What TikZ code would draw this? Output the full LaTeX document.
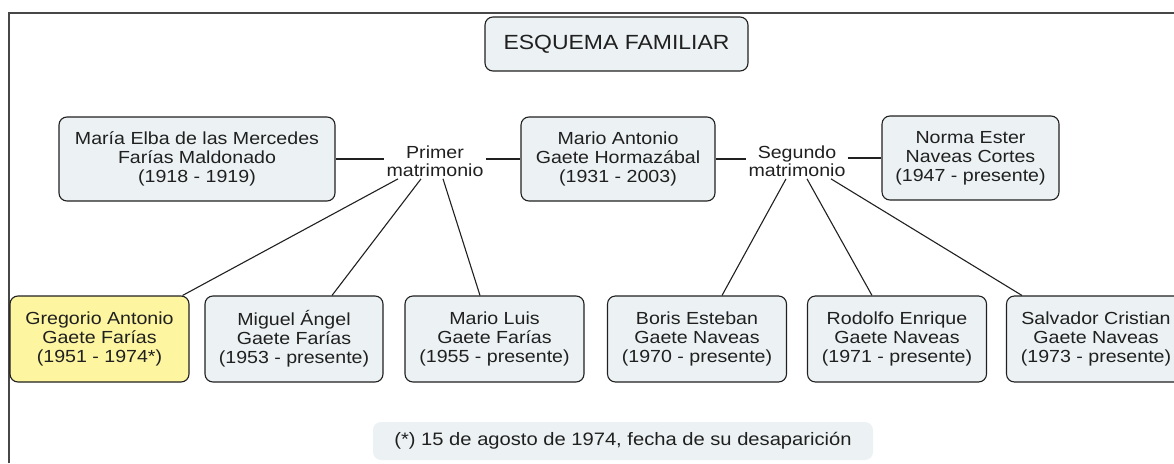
\documentclass[tikz,border=0pt]{standalone}
\usepackage{fontspec}
\setmainfont{Liberation Sans}[FakeStretch=1.12]
\definecolor{boxfill}{RGB}{236,242,244}
\definecolor{deadfill}{RGB}{253,245,160}
\definecolor{inkgray}{RGB}{32,32,32}

\begin{document}
\begin{tikzpicture}[x=1pt,y=-1pt]

        \useasboundingbox (0,0) rectangle (1174,463);
        \draw[line width=1.6pt, black!72] (9,463) -- (9,13) -- (1174,13);

        \begin{scope}[every node/.style={draw=inkgray, fill=boxfill, line width=1.1pt,
            rounded corners=8pt, align=center, inner sep=0pt, text=inkgray,
            font=\fontsize{17.5}{19}\selectfont}]
          \node[minimum width=263, minimum height=54,
                font=\fontsize{20.5}{22}\selectfont] (title) at (616.5,44) {ESQUEMA FAMILIAR};
          \node[minimum width=276, minimum height=84] (maria)  at (197,159)
            {María Elba de las Mercedes\\Farías Maldonado\\(1918 - 1919)};
          \node[minimum width=194, minimum height=84] (mario)  at (618,159)
            {Mario Antonio\\Gaete Hormazábal\\(1931 - 2003)};
          \node[minimum width=177, minimum height=84] (norma)  at (970.5,158)
            {Norma Ester\\Naveas Cortes\\(1947 - presente)};

          \node[minimum width=179, minimum height=86, fill=deadfill] (gregorio) at (99.5,339)
            {Gregorio Antonio\\Gaete Farías\\(1951 - 1974*)};
          \node[minimum width=178, minimum height=86] (miguel)    at (294,339)
            {Miguel Ángel\\Gaete Farías\\(1953 - presente)};
          \node[minimum width=179, minimum height=86] (marioluis) at (494.5,339)
            {Mario Luis\\Gaete Farías\\(1955 - presente)};
          \node[minimum width=179, minimum height=86] (boris)     at (697,339)
            {Boris Esteban\\Gaete Naveas\\(1970 - presente)};
          \node[minimum width=179, minimum height=86] (rodolfo)   at (897,339)
            {Rodolfo Enrique\\Gaete Naveas\\(1971 - presente)};
          \node[minimum width=179, minimum height=86] (salvador)  at (1096,339)
            {Salvador Cristian\\Gaete Naveas\\(1973 - presente)};

          \node[draw=none, minimum width=500, minimum height=38,
                font=\fontsize{18}{19}\selectfont] (nota) at (623,441)
            {(*) 15 de agosto de 1974, fecha de su desaparición};
        \end{scope}

        \begin{scope}[every node/.style={align=center, inner sep=2pt, text=inkgray,
            font=\fontsize{17.5}{18.5}\selectfont}]
          \node (primer)  at (435,161) {Primer\\matrimonio};
          \node (segundo) at (797,161) {Segundo\\matrimonio};
        \end{scope}

        \begin{scope}[every edge/.style={draw, inkgray, line width=1.1pt}]
          \path (maria)   edge (maria -| primer.west);
          \path (primer.east |- mario) edge (mario);
          \path (mario)   edge (mario -| segundo.west);
          \path (segundo.east |- norma) edge (norma);

          \path ([xshift=-37pt]primer.south)  edge ([xshift=-7pt]gregorio.north east);
          \path ([xshift=-14pt]primer.south)  edge ([xshift=38pt]miguel.north);
          \path ([xshift=8pt]primer.south)    edge ([xshift=-14.5pt]marioluis.north);
          \path ([xshift=-11pt]segundo.south) edge ([xshift=25pt]boris.north);
          \path ([xshift=10pt]segundo.south)  edge ([xshift=-25pt]rodolfo.north);
          \path ([xshift=34pt]segundo.south)  edge ([xshift=16pt]salvador.north west);
        \end{scope}

      \end{tikzpicture}
\end{document}
